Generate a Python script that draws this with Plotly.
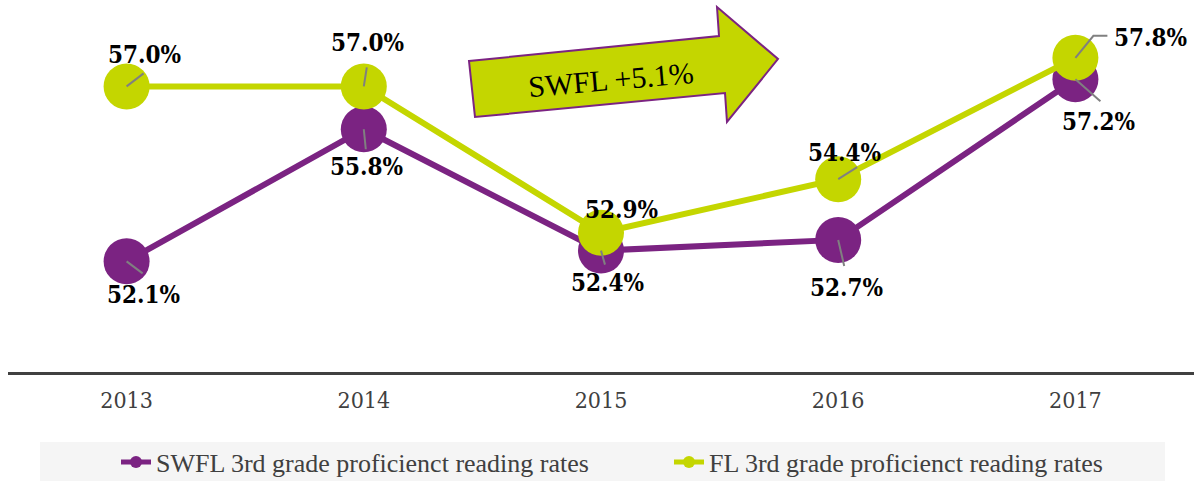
import plotly.graph_objects as go

years = ["2013", "2014", "2015", "2016", "2017"]
swfl = [52.1, 55.8, 52.4, 52.7, 57.2]
fl = [57.0, 57.0, 52.9, 54.4, 57.8]
swfl_name = "SWFL 3rd grade proficienct reading rates"
fl_name = "FL 3rd grade proficienct reading rates"
arrow_text = "SWFL +5.1%"

PURPLE = "#7B2382"
LIME = "#C4D600"
GRAY = "#808080"
DARK = "#404040"

W, H = 1201, 481
ML, MR, MT, MB = 8, 7, 10, 109
PW, PH = W - ML - MR, H - MT - MB

def px(x):
    return (x - ML) / PW

def py(y):
    return (H - MB - y) / PH

LABEL_FONT = dict(family="DejaVu Serif Condensed, DejaVu Serif", size=24, color="#000000")

fig = go.Figure()
fig.add_trace(go.Scatter(x=years, y=swfl, mode="lines+markers", name=swfl_name,
                         line=dict(color=PURPLE, width=6),
                         marker=dict(color=PURPLE, size=46)))
fig.add_trace(go.Scatter(x=years, y=fl, mode="lines+markers", name=fl_name,
                         line=dict(color=LIME, width=6),
                         marker=dict(color=LIME, size=46)))

# label offsets (pixels, screen: +x right, +y down)
swfl_lbl = [(17, 33), (3, 37), (6, 32), (8, 48), (23, 42)]
fl_lbl = [(18, -32), (4, -44), (20, -23), (6, -27), (75, -20)]
swfl_lead = [(16, 12), (2, 20), (4, 14), (6, 26), (25, 22)]
fl_lead = [(17, -13), (3, -19), None, (19, -12), None]

annotations = []
shapes = []
for i, y in enumerate(years):
    for vals, lbl, lead in ((swfl, swfl_lbl, swfl_lead), (fl, fl_lbl, fl_lead)):
        dx, dy = lbl[i]
        annotations.append(dict(x=i, y=vals[i], xref="x", yref="y",
                                xanchor="center", yanchor="middle",
                                text="<b>%.1f%%</b>" % vals[i], showarrow=False,
                                xshift=dx, yshift=-dy, font=LABEL_FONT))
        if lead[i] is not None:
            lx, ly = lead[i]
            shapes.append(dict(type="line", xref="x", yref="y",
                               xsizemode="pixel", ysizemode="pixel",
                               xanchor=i, yanchor=vals[i],
                               x0=0, y0=0, x1=lx, y1=-ly,
                               line=dict(color=GRAY, width=2)))
# 2017 FL elbow leader
shapes.append(dict(type="path", xref="x", yref="y",
                   xsizemode="pixel", ysizemode="pixel",
                   xanchor=4, yanchor=fl[4],
                   path="M0,0 L18,22 L32,22",
                   line=dict(color=GRAY, width=2)))

# big arrow
pts = [(469, 61), (719, 36), (717, 7), (778, 59), (727, 122), (725, 93), (475, 117)]
path = "M" + " L".join("%.5f,%.5f" % (px(a), py(b)) for a, b in pts) + " Z"
shapes.append(dict(type="path", xref="paper", yref="paper", path=path,
                   fillcolor=LIME, line=dict(color=PURPLE, width=2), layer="above"))
annotations.append(dict(x=px(611), y=py(79), xref="paper", yref="paper",
                        xanchor="center", yanchor="middle",
                        text=arrow_text, showarrow=False, textangle=-5,
                        font=dict(family="Liberation Serif", size=30, color="#000000")))

# legend background
shapes.append(dict(type="rect", xref="paper", yref="paper",
                   x0=px(40), x1=px(1165), y0=py(442), y1=py(481),
                   fillcolor="#F5F5F5", line=dict(width=0), layer="below"))

fig.update_layout(
    width=W, height=H,
    margin=dict(l=ML, r=MR, t=MT, b=MB, autoexpand=False),
    paper_bgcolor="white", plot_bgcolor="white",
    showlegend=True,
    legend=dict(orientation="h", x=px(116), xanchor="left", y=py(462), yanchor="middle",
                bgcolor="rgba(0,0,0,0)", itemsizing="constant",
                entrywidth=508, entrywidthmode="pixels",
                font=dict(family="Liberation Serif", size=26, color=DARK)),
    annotations=annotations,
    shapes=shapes,
)
fig.update_xaxes(type="category", range=[-0.5, 4.5], showline=True, linecolor=DARK,
                 linewidth=3, showgrid=False, ticks="", zeroline=False,
                 ticklabelstandoff=5,
                 tickfont=dict(family="DejaVu Serif Condensed, DejaVu Serif", size=23, color=DARK))
fig.update_yaxes(range=[49.0, 59.14], visible=False, showgrid=False, zeroline=False)

fig.write_html("out.html", config={"displayModeBar": False},
               post_script="document.body.style.margin='0';document.body.style.padding='0';")
